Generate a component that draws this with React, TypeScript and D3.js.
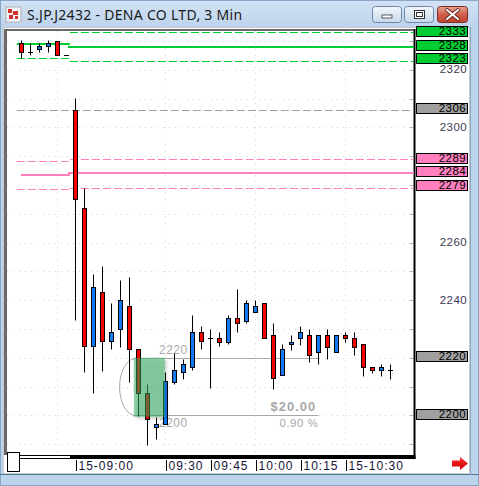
import React from "react";
import * as d3 from "d3";

// ---- chart data -------------------------------------------------------
// Bars are indexed from -6 (previous session tail) to 35 (15-09:00 = 0, 3-minute bars).
const firstBar = -6;
const barOpen = [
  2329.2, 2326, 2327.1, 2328.1, 2330.1, 2325.1,
  2306, 2271.9, 2224.1, 2242.7, 2225.7, 2229.9, 2238, 2223, 2207.6, 2195.8,
  2197, 2211.7, 2214.9, 2216.7, 2228.8, 2226.7, 2226.7, 2225.6, 2233.7, 2232.8,
  2235.7, 2238.9, 2227.9, 2213.9, 2224.7, 2226.7, 2227.8, 2221.9, 2227.8, 2221.9,
  2227.8, 2226.7, 2224.8, 2216.7, 2215.6, 2215.6,
];
const barHigh = [
  2330.3, 2329.2, 2329.2, 2330.3, 2330.1, 2325.1,
  2310.1, 2278.8, 2249.1, 2251.8, 2238.9, 2247, 2247.9, 2223, 2210.9, 2199.5,
  2215, 2221.7, 2219.4, 2234.8, 2231, 2229.9, 2228.8, 2234.8, 2243.9, 2240,
  2240, 2238.9, 2231.9, 2224.7, 2227.9, 2231, 2229.9, 2227.8, 2229.9, 2227.8,
  2228.8, 2228.8, 2224.8, 2216.7, 2217.8, 2217.8,
];
const barLow = [
  2324, 2325.1, 2326, 2326, 2325, 2325.1,
  2233.1, 2214.9, 2207.6, 2215.5, 2222.9, 2223.8, 2211.7, 2199.8, 2189.7, 2191.7,
  2197, 2210.8, 2212.7, 2215.7, 2222.9, 2209.6, 2224.1, 2224.7, 2228.8, 2231.9,
  2235.7, 2226.7, 2209, 2213.9, 2222.7, 2224.4, 2218.6, 2217.8, 2219.7, 2221.9,
  2225.6, 2220.8, 2213.8, 2214.8, 2213.8, 2212.7,
];
const barClose = [
  2326, 2326, 2328.2, 2329.2, 2325, 2325.1,
  2275, 2224.1, 2244.7, 2225.7, 2228.8, 2240, 2223, 2207.6, 2198.6, 2197,
  2211.8, 2215.7, 2217.8, 2228.8, 2225.7, 2226.7, 2225.6, 2233.7, 2231.9, 2238.9,
  2237.9, 2226.7, 2212.8, 2222.9, 2225.6, 2228.8, 2220.8, 2227.8, 2223.8, 2227.8,
  2226.7, 2223.8, 2216.7, 2215.6, 2216.7, 2215.6,
];

const timeTickBars = [0, 10, 15, 20, 25, 30];
const timeTickLabels = ["15-09:00", "09:30", "09:45", "10:00", "10:15", "15-10:30"];

// plain price labels (levels with their own boxes are labelled by the boxes)
const priceTicks = [2240, 2260, 2300, 2320];
const gridPrices = d3.range(2190, 2331, 10);
const gridBars = [-2, 10, 20, 30];

// reference levels: current session (right) and previous session (left)
const greenLevels = [2333, 2328, 2323];
const greenPrevLevels = [2334, 2329, 2324];
const pinkLevels = [2289, 2284, 2279];
const pinkPrevLevels = [2288.2, 2283.4, 2278.5];
const pivotLevel = 2306;

// price measurement between two levels
const measureLow = 2200;
const measureHigh = 2220;
const measureStartBar = 6.7;
const measureEndBar = 27;
const zoneStartBar = 6.5;
const zoneEndBar = 9.94;

// ---- layout --------------------------------------------------------------
const W = 479;
const H = 486;
const plotLeft = 7;
const plotRight = 414;
const plotTop = 31;
const plotBottom = 455;
const levelSplitBar = -0.6;
const levelStartBar = -6.5;
const boxStep = 13.5;

const RED = "#ff0000";
const BLUE = "#1478f0";
const GREEN = "#00cc33";
const PINK = "#ff7fbf";
const GRAY = "#a0a0a0";
const FONT = "Liberation Sans, Arial, sans-serif";

const x = d3.scaleLinear().domain([-6, 35]).range([21.3, 390.3]);
const y = d3.scaleLinear().domain([2200, 2320]).range([415.3, 69.7]);
const crisp = (v: number) => Math.round(v) + 0.5;

type Bar = { i: number; o: number; h: number; l: number; c: number };
const bars: Bar[] = barOpen.map((o, k) => ({
  i: firstBar + k,
  o,
  h: barHigh[k],
  l: barLow[k],
  c: barClose[k],
}));

function Candle({ b }: { b: Bar }) {
  const cx = Math.round(x(b.i));
  const wx = cx + 0.5;
  const yH = crisp(y(b.h));
  const yL = crisp(y(b.l));
  if (Math.abs(b.o - b.c) < 0.05) {
    const yc = crisp(y(b.c));
    return (
      <g>
        {yL - yH > 1 && <line x1={wx} x2={wx} y1={yH} y2={yL} stroke="#000" />}
        <line x1={cx - 2} x2={cx + 3} y1={yc} y2={yc} stroke="#000" />
      </g>
    );
  }
  const top = crisp(y(Math.max(b.o, b.c)));
  const bot = crisp(y(Math.min(b.o, b.c)));
  return (
    <g>
      <line x1={wx} x2={wx} y1={yH} y2={yL} stroke="#000" />
      <rect
        x={cx - 1.5}
        y={top}
        width={4}
        height={Math.max(bot - top, 2)}
        fill={b.c > b.o ? BLUE : RED}
        stroke="#000"
        strokeWidth={1}
      />
    </g>
  );
}

function LevelSet({
  prev,
  cur,
  color,
  solidStartBar,
}: {
  prev: number[];
  cur: number[];
  color: string;
  solidStartBar: number;
}) {
  const xs0 = x(levelStartBar);
  const xm = x(levelSplitBar);
  return (
    <g>
      <line x1={xs0} x2={xm} y1={crisp(y(prev[0]))} y2={crisp(y(prev[0]))} stroke={color} strokeDasharray="8,3" />
      <line x1={xs0} x2={xm} y1={crisp(y(prev[2]))} y2={crisp(y(prev[2]))} stroke={color} strokeDasharray="8,3" />
      <line x1={x(solidStartBar)} x2={xm} y1={Math.round(y(prev[1]))} y2={Math.round(y(prev[1]))} stroke={color} strokeWidth={2} />
      <line x1={xm} x2={plotRight} y1={crisp(y(cur[0]))} y2={crisp(y(cur[0]))} stroke={color} strokeDasharray="8,3" />
      <line x1={xm} x2={plotRight} y1={crisp(y(cur[2]))} y2={crisp(y(cur[2]))} stroke={color} strokeDasharray="8,3" />
      <line x1={xm - 2} x2={plotRight} y1={Math.round(y(cur[1]))} y2={Math.round(y(cur[1]))} stroke={color} strokeWidth={2} />
    </g>
  );
}

function PriceBox({ v, fill, cy }: { v: number; fill: string; cy: number }) {
  return (
    <g>
      <rect x={416.5} y={Math.round(cy - 5) + 0.5} width={51} height={10} fill={fill} stroke="#000" />
      <text x={466} y={cy + 4} textAnchor="end" fontSize={11.5} fontFamily={FONT} fill="#000" letterSpacing={0.4}>
        {v}
      </text>
    </g>
  );
}

// stacked boxes for a group of nearby levels, listed from the highest price down
function PriceBoxGroup({ values, fill }: { values: number[]; fill: string }) {
  const top = y(values[0]) - 1.2;
  return (
    <g>
      {values.map((v, k) => (
        <PriceBox key={v} v={v} fill={fill} cy={top + k * boxStep} />
      ))}
    </g>
  );
}

function TitleBar() {
  return (
    <g>
      <defs>
        <linearGradient id="tb" x1="0" y1="0" x2="0" y2="1">
          <stop offset="0" stopColor="#d3e2f4" />
          <stop offset="1" stopColor="#bcd3ec" />
        </linearGradient>
        <linearGradient id="btn" x1="0" y1="0" x2="0" y2="1">
          <stop offset="0" stopColor="#f2f6fb" />
          <stop offset="0.5" stopColor="#dde7f3" />
          <stop offset="1" stopColor="#c9d8ea" />
        </linearGradient>
        <linearGradient id="btnClose" x1="0" y1="0" x2="0" y2="1">
          <stop offset="0" stopColor="#e8a596" />
          <stop offset="0.5" stopColor="#d0604c" />
          <stop offset="1" stopColor="#c0432e" />
        </linearGradient>
      </defs>
      <rect x={0} y={0} width={W} height={H} fill="#bcd3ec" />
      <rect x={0} y={0} width={W} height={28} fill="url(#tb)" />
      <rect x={0.5} y={0.5} width={W - 1} height={H - 1} fill="none" stroke="#8aa6c6" />
      {/* window icon */}
      <rect x={6} y={7} width={15} height={15} fill="#f4f4f4" stroke="#b0b0b0" />
      <rect x={8} y={9} width={4} height={4} fill="#d23030" />
      <rect x={13} y={11} width={5} height={4} fill="#d23030" />
      <rect x={9} y={15} width={4} height={4} fill="#d23030" />
      <rect x={15} y={16} width={3} height={3} fill="#d23030" />
      <text
        x={27}
        y={19.5}
        fontSize={14}
        letterSpacing={0.3}
        fontFamily="Noto Sans, DejaVu Sans, sans-serif"
        fill="#1a1a1a"
      >
        S.JP.J2432 - DENA CO LTD, 3 Min
      </text>
      {/* caption buttons */}
      <rect x={372.5} y={6.5} width={29} height={16} rx={3} fill="url(#btn)" stroke="#7088a8" />
      <rect x={382} y={15} width={10} height={3} fill="#fff" stroke="#333" strokeWidth={0.8} />
      <rect x={404.5} y={6.5} width={29} height={16} rx={3} fill="url(#btn)" stroke="#7088a8" />
      <rect x={414.5} y={10.5} width={10} height={8} fill="#fff" stroke="#333" />
      <rect x={416.5} y={12.5} width={6} height={4} fill="#fff" stroke="#333" />
      <rect x={437.5} y={6.5} width={30} height={16} rx={3} fill="url(#btnClose)" stroke="#7a2a20" />
      <path d="M447,10 L458,19 M458,10 L447,19" stroke="#5a1a12" strokeWidth={3.6} strokeLinecap="round" />
      <path d="M447,10 L458,19 M458,10 L447,19" stroke="#fff" strokeWidth={2.2} strokeLinecap="round" />
    </g>
  );
}

export default function App() {
  const yMH = crisp(y(measureHigh));
  const yML = crisp(y(measureLow));
  const mx0 = x(measureStartBar);
  const mx1 = x(measureEndBar);
  const pct = ((measureHigh - measureLow) / measureHigh) * 100;
  const zoneX0 = x(zoneStartBar);
  const zoneX1 = x(zoneEndBar);

  return (
    <svg
      width={W}
      height={H}
      viewBox={`0 0 ${W} ${H}`}
      style={{ position: "absolute", left: 0, top: 0, display: "block" }}
    >
      <defs>
        <clipPath id="plotClip">
          <rect x={plotLeft} y={plotTop} width={plotRight - plotLeft} height={plotBottom - plotTop} />
        </clipPath>
        <filter id="zoneShadow" x="-30%" y="-30%" width="160%" height="160%">
          <feDropShadow dx={2} dy={2} stdDeviation={1.6} floodColor="#000" floodOpacity={0.35} />
        </filter>
        <linearGradient id="arrowFill" x1="0" y1="0" x2="0" y2="1">
          <stop offset="0" stopColor="#ff3030" />
          <stop offset="1" stopColor="#d00000" />
        </linearGradient>
      </defs>

      <TitleBar />

      {/* client area */}
      <rect x={3.5} y={27.5} width={466} height={446} fill="#fff" stroke="#c9c9c9" />
      <line x1={0} x2={W} y1={474.5} y2={474.5} stroke="#4d7a98" />
      <line x1={470.5} x2={470.5} y1={27} y2={475} stroke="#8ea8c4" />

      {/* plot frame: sunken top/left, dark right */}
      <rect x={plotLeft} y={plotTop} width={plotRight - plotLeft} height={plotBottom - plotTop} fill="#fff" />
      <rect x={4} y={29} width={3} height={plotBottom - 29} fill="#6a6a6a" />
      <rect x={4} y={29} width={plotRight - 4} height={2} fill="#6a6a6a" />
      <rect x={plotRight - 0.5} y={29} width={2} height={plotBottom - 29 + 4} fill="#000" />

      {/* grid */}
      <g clipPath="url(#plotClip)">
        {gridPrices.map((p) => (
          <line
            key={"gp" + p}
            x1={plotLeft}
            x2={plotRight}
            y1={crisp(y(p))}
            y2={crisp(y(p))}
            stroke="#d4d4d4"
            strokeDasharray="1,5"
          />
        ))}
        {gridBars.map((b) => (
          <line
            key={"gb" + b}
            x1={Math.round(x(b)) + 0.5}
            x2={Math.round(x(b)) + 0.5}
            y1={plotTop}
            y2={plotBottom}
            stroke="#d4d4d4"
            strokeDasharray="1,5"
          />
        ))}
      </g>

      {/* reference levels */}
      <g clipPath="url(#plotClip)">
        <line
          x1={x(levelStartBar)}
          x2={plotRight}
          y1={crisp(y(pivotLevel))}
          y2={crisp(y(pivotLevel))}
          stroke={GRAY}
          strokeDasharray="8,3"
        />
        <LevelSet prev={greenPrevLevels} cur={greenLevels} color={GREEN} solidStartBar={levelStartBar} />
        <LevelSet prev={pinkPrevLevels} cur={pinkLevels} color={PINK} solidStartBar={-6.05} />
      </g>

      {/* measurement lines and text */}
      <g clipPath="url(#plotClip)">
        <line x1={mx0} x2={mx1} y1={yMH} y2={yMH} stroke="#a8a8a8" />
        <line x1={mx0} x2={mx1} y1={yML} y2={yML} stroke="#a8a8a8" />
        <path
          d={`M${mx0},${yMH} A16,${(yML - yMH) / 2} 0 0 0 ${mx0},${yML}`}
          fill="none"
          stroke="#a8a8a8"
        />
        <text x={159} y={yMH - 5} fontSize={12} fontFamily={FONT} fill="#a8a8a8" letterSpacing={0.5}>
          {measureHigh}
        </text>
        <text x={159} y={yML + 11} fontSize={12} fontFamily={FONT} fill="#a8a8a8" letterSpacing={0.5}>
          {measureLow}
        </text>
        <text
          x={mx1 - 2}
          y={yML - 5}
          textAnchor="end"
          fontSize={13}
          fontWeight="bold"
          fontFamily={FONT}
          fill="#a8a8a8"
          letterSpacing={1}
        >
          {`$${(measureHigh - measureLow).toFixed(2)}`}
        </text>
        <text x={mx1} y={yML + 11} textAnchor="end" fontSize={11.5} fontFamily={FONT} fill="#a8a8a8" letterSpacing={0.5}>
          {`${pct.toFixed(2)} %`}
        </text>
      </g>

      {/* candles */}
      <g clipPath="url(#plotClip)">
        {bars.map((b) => (
          <Candle key={b.i} b={b} />
        ))}
      </g>

      {/* highlighted zone */}
      <rect
        x={zoneX0}
        y={y(measureHigh)}
        width={zoneX1 - zoneX0}
        height={y(measureLow) - y(measureHigh) + 1.5}
        fill="rgba(40,170,90,0.5)"
        filter="url(#zoneShadow)"
      />

      {/* price axis */}
      {gridPrices.map((p) => (
        <line key={"t" + p} x1={410} x2={413} y1={crisp(y(p))} y2={crisp(y(p))} stroke="#b8b8b8" />
      ))}
      {priceTicks.map((p) => (
        <text
          key={"pl" + p}
          x={467}
          y={y(p) + 3.6}
          textAnchor="end"
          fontSize={11.5}
          fontFamily={FONT}
          fill="#3a3a52"
          letterSpacing={0.4}
        >
          {p}
        </text>
      ))}
      <PriceBox v={pivotLevel} fill="#a0a0a0" cy={y(pivotLevel) - 1.7} />
      <PriceBoxGroup values={greenLevels} fill={GREEN} />
      <PriceBoxGroup values={pinkLevels} fill={PINK} />
      <PriceBox v={measureHigh} fill="#a0a0a0" cy={y(measureHigh) - 1.4} />
      <PriceBox v={measureLow} fill="#a0a0a0" cy={y(measureLow) - 1} />

      {/* scroll strip along the bottom of the plot */}
      <rect x={70} y={plotBottom} width={plotRight + 1.5 - 70} height={4} fill="#000" />
      <line x1={19} x2={70} y1={455.5} y2={455.5} stroke="#000" />
      <line x1={19} x2={70} y1={458.5} y2={458.5} stroke="#000" />
      <rect x={7.5} y={452.5} width={12} height={19} fill="#fff" stroke="#000" />

      {/* time axis */}
      {timeTickBars.map((b, k) => {
        const tx = Math.round(x(b)) + 1.5;
        return (
          <g key={"tt" + b}>
            <line x1={tx} x2={tx} y1={460} y2={471} stroke="#000" />
            <text x={tx + 2} y={470} fontSize={12} fontFamily={FONT} fill="#141438" letterSpacing={1}>
              {timeTickLabels[k]}
            </text>
          </g>
        );
      })}

      {/* scroll-right arrow */}
      <path d="M452,460.5 L460,460.5 L460,457 L468,463.5 L460,470 L460,466.5 L452,466.5 Z" fill="url(#arrowFill)" />
    </svg>
  );
}
